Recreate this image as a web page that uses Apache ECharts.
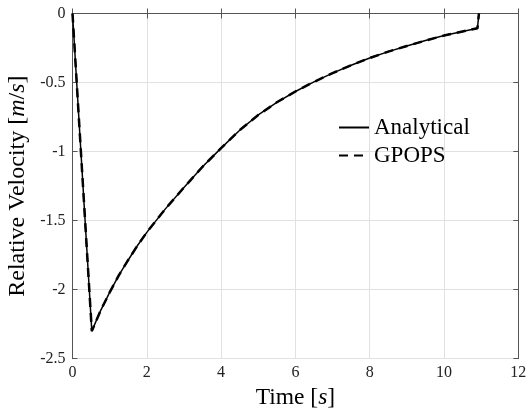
<!DOCTYPE html>
<html>
<head>
<meta charset="utf-8">
<script src="https://cdn.jsdelivr.net/npm/echarts@6/dist/echarts.min.js"></script>
<style>
html,body{margin:0;padding:0;background:#fff;}
#chart{width:531px;height:415px;}
</style>
</head>
<body>
<div id="chart"></div>
<script>
// Data
const timeValues = [0, 0.52, 0.75, 1.0, 1.25, 1.5, 1.75, 2.0, 2.5, 3.0, 3.5, 4.0, 4.5, 5.0, 5.5, 6.0, 6.5, 7.0, 7.5, 8.0, 8.5, 9.0, 9.5, 10.0, 10.5, 10.9, 10.94];
const analyticalValues = [0, -2.30, -2.155, -2.02, -1.895, -1.785, -1.68, -1.585, -1.415, -1.26, -1.11, -0.975, -0.845, -0.735, -0.643, -0.565, -0.495, -0.432, -0.375, -0.322, -0.276, -0.235, -0.196, -0.16, -0.13, -0.107, 0];
const gpopsValues = [0, -2.30, -2.155, -2.02, -1.895, -1.785, -1.68, -1.585, -1.415, -1.26, -1.11, -0.975, -0.845, -0.735, -0.643, -0.565, -0.495, -0.432, -0.375, -0.322, -0.276, -0.235, -0.196, -0.16, -0.13, -0.107, 0];
const seriesNames = ['Analytical', 'GPOPS'];
const xTicks = {min: 0, max: 12, interval: 2};
const yTicks = {min: -2.5, max: 0, interval: 0.5};

const FONT = 'Liberation Serif';
const AX = '#555555';
const GRID = '#e1e1e1';

const pairs = (xs, ys) => xs.map((x, i) => [x, ys[i]]);

const chart = echarts.init(document.getElementById('chart'), null, {renderer: 'canvas'});
chart.setOption({
  animation: false,
  backgroundColor: '#fff',
  grid: {left: 72.5, right: 12.7, top: 13.5, bottom: 56.3, containLabel: false, outerBoundsMode: 'none'},
  legend: {
    orient: 'vertical',
    left: 333,
    top: 111,
    padding: 5,
    itemWidth: 30,
    itemHeight: 14,
    itemGap: 5,
    itemStyle: {opacity: 0},
    textStyle: {fontFamily: FONT, fontSize: 23, color: '#000'},
    data: seriesNames
  },
  xAxis: [{
    type: 'value', position: 'bottom',
    min: xTicks.min, max: xTicks.max, interval: xTicks.interval,
    name: 'Time [{i|s}]', nameLocation: 'middle', nameGap: 26,
    nameTextStyle: {fontFamily: FONT, fontSize: 23.5, color: '#000', rich: {i: {fontFamily: FONT, fontStyle: 'italic', fontSize: 23.5, color: '#000'}}},
    axisLine: {show: true, lineStyle: {color: AX, width: 1}},
    axisTick: {show: true, inside: true, length: 5, lineStyle: {color: AX}},
    axisLabel: {fontFamily: FONT, fontSize: 16, color: '#222', margin: 6},
    splitLine: {show: true, lineStyle: {color: GRID, width: 1}}
  }, {
    type: 'value', position: 'top',
    min: xTicks.min, max: xTicks.max, interval: xTicks.interval,
    axisLine: {show: true, lineStyle: {color: AX, width: 1}},
    axisTick: {show: true, inside: true, length: 5, lineStyle: {color: AX}},
    axisLabel: {show: false},
    splitLine: {show: false}
  }],
  yAxis: [{
    type: 'value', position: 'left',
    min: yTicks.min, max: yTicks.max, interval: yTicks.interval,
    name: 'Relative Velocity [{i|m}/{i|s}]', nameLocation: 'middle', nameGap: 38, nameRotate: 90,
    nameTextStyle: {fontFamily: FONT, fontSize: 24, color: '#000', rich: {i: {fontFamily: FONT, fontStyle: 'italic', fontSize: 24, color: '#000'}}},
    axisLine: {show: true, onZero: false, lineStyle: {color: AX, width: 1}},
    axisTick: {show: true, inside: true, length: 5, lineStyle: {color: AX}},
    axisLabel: {fontFamily: FONT, fontSize: 16, color: '#222', margin: 7},
    splitLine: {show: true, lineStyle: {color: GRID, width: 1}}
  }, {
    type: 'value', position: 'right',
    min: yTicks.min, max: yTicks.max, interval: yTicks.interval,
    axisLine: {show: true, onZero: false, lineStyle: {color: AX, width: 1}},
    axisTick: {show: true, inside: true, length: 5, lineStyle: {color: AX}},
    axisLabel: {show: false},
    splitLine: {show: false}
  }],
  series: [{
    name: seriesNames[0], type: 'line', xAxisIndex: 0, yAxisIndex: 0,
    data: pairs(timeValues, analyticalValues),
    showSymbol: false, symbol: 'none', smooth: false,
    lineStyle: {color: '#000', width: 1.5, type: 'solid'},
    itemStyle: {color: '#000'}
  }, {
    name: seriesNames[1], type: 'line', xAxisIndex: 0, yAxisIndex: 0,
    data: pairs(timeValues, gpopsValues),
    showSymbol: false, symbol: 'none', smooth: false,
    lineStyle: {color: '#000', width: 2.5, type: [9, 6]},
    itemStyle: {color: '#000'}
  }]
});
</script>
</body>
</html>
